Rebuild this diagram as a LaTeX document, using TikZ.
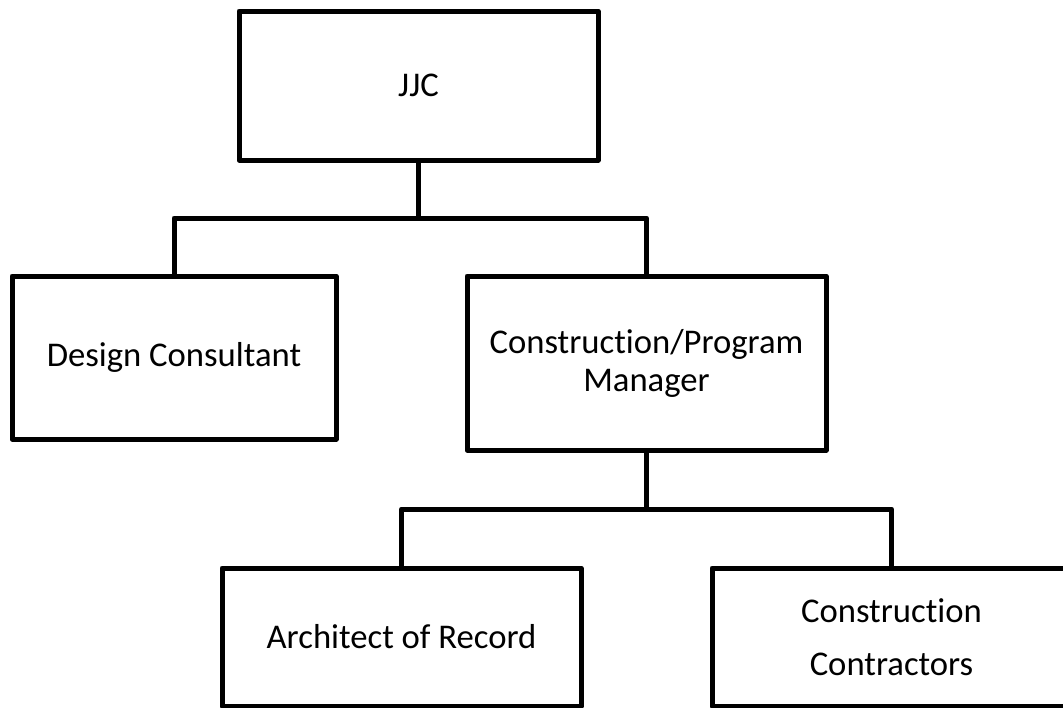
\documentclass[tikz,border=0pt]{standalone}
\usepackage{fontspec}
\setmainfont{Carlito}[Ligatures=NoCommon]
\usepackage{tikz}
\usetikzlibrary{positioning}

\tikzset{
  orgbox/.style={draw=black,line width=3.75pt,line join=round,align=center,
    inner sep=0pt,font=\fontsize{26pt}{28.5pt}\selectfont},
  orglink/.style={draw=black,line width=3.75pt,line join=round}
}

\begin{document}
\begin{tikzpicture}[x=0.75pt,y=-0.75pt]
    \useasboundingbox (0,0) rectangle (1063,707);
    % ============ Top level ============
    \node[orgbox,minimum width=269.25pt,minimum height=111.75pt] (jjc) at (418.5,85.5) {JJC};
    % ============ Second level ============
    \node[orgbox,minimum width=243pt,minimum height=122.25pt] (design) at (174,357.5) {Design Consultant};
    \node[orgbox,minimum width=269.25pt,minimum height=130.5pt] (cpm) at (646.5,363)
      {Construction/Program\\Manager};
    % ============ Third level ============
    \node[orgbox,minimum width=269.25pt,minimum height=103.5pt] (aor) at (401.5,637) {Architect of Record};
    \node[orgbox,minimum width=269.25pt,minimum height=103.5pt,
      font=\fontsize{26pt}{39.75pt}\selectfont] (contractors) at (891.5,637)
      {Construction\\Contractors};
    % ============ Links ============
    \coordinate (topbus) at (418.5,218);
    \coordinate (midbus) at (646.5,509);
    \draw[orglink] (jjc.south) -- (topbus);
    \draw[orglink] (design.north) |- (topbus) -| (cpm.north);
    \draw[orglink] (cpm.south) -- (midbus);
    \draw[orglink] (aor.north) |- (midbus) -| (contractors.north);
\end{tikzpicture}
\end{document}
